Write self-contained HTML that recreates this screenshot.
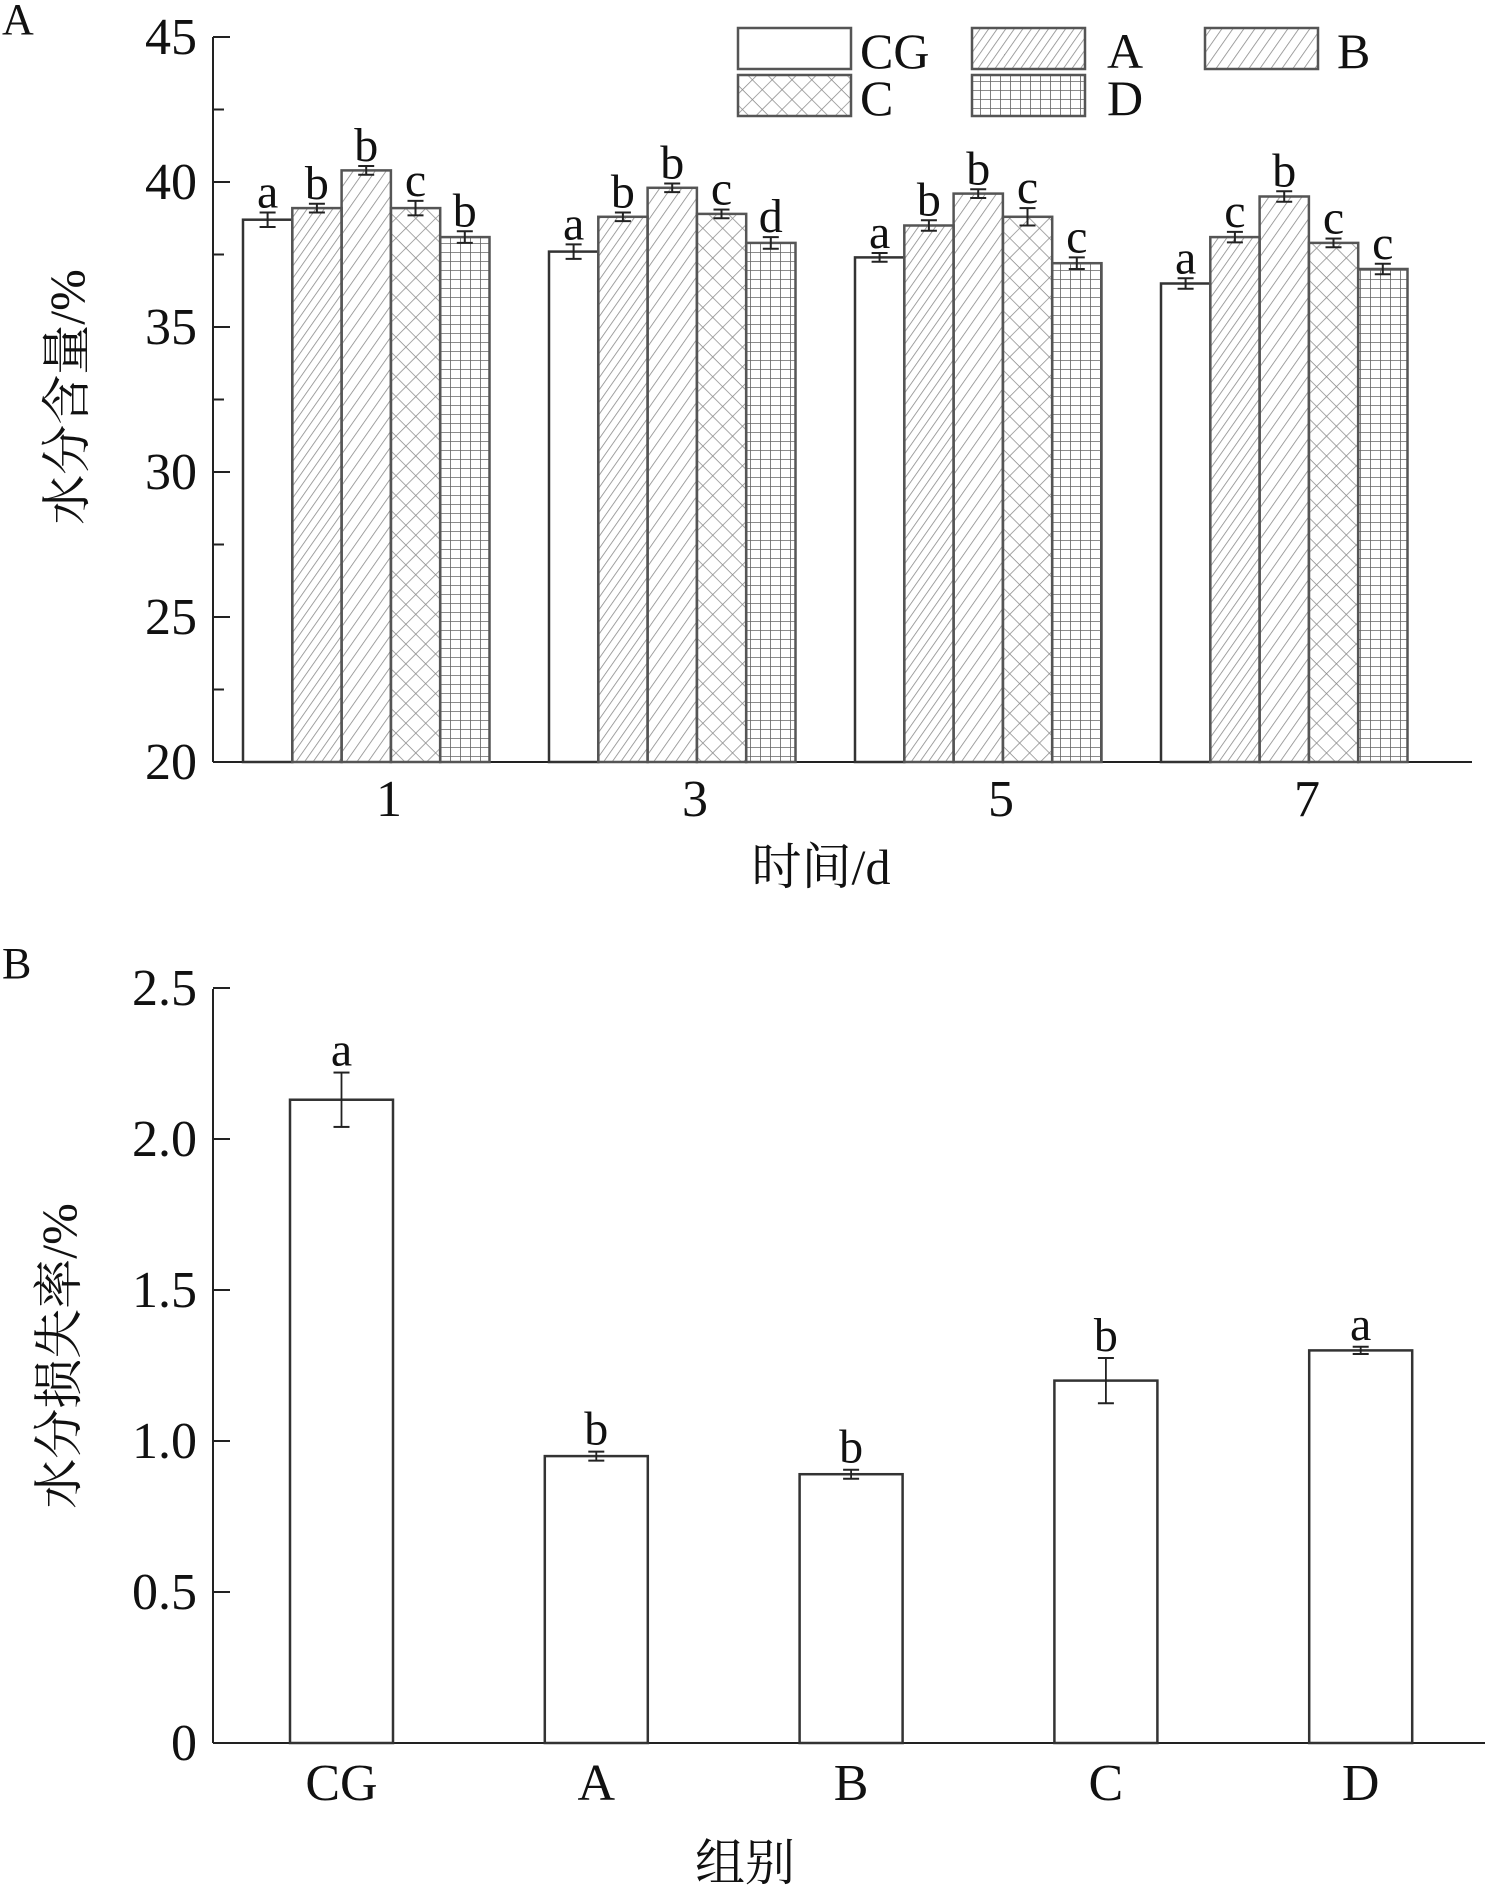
<!DOCTYPE html>
<html><head><meta charset="utf-8">
<style>html,body{margin:0;padding:0;background:#fff}svg{display:block}</style>
</head><body>
<svg id="s" width="1490" height="1885" viewBox="0 0 1490 1885" xmlns="http://www.w3.org/2000/svg" font-family="'Liberation Serif','Noto Serif CJK SC',serif">
<defs>
<pattern id="pA" width="7" height="7" patternUnits="userSpaceOnUse" patternTransform="rotate(35)"><line x1="0" y1="0" x2="0" y2="7" stroke="#8a8a8a" stroke-width="1.6"/></pattern>
<pattern id="pB" width="9" height="9" patternUnits="userSpaceOnUse" patternTransform="rotate(35)"><line x1="0" y1="0" x2="0" y2="9" stroke="#8a8a8a" stroke-width="1.6"/></pattern>
<pattern id="pC" width="14" height="14" patternUnits="userSpaceOnUse" patternTransform="rotate(45)"><line x1="0" y1="0" x2="0" y2="14" stroke="#8a8a8a" stroke-width="1.5"/><line x1="0" y1="0" x2="14" y2="0" stroke="#8a8a8a" stroke-width="1.5"/></pattern>
<pattern id="pD" width="10" height="9" patternUnits="userSpaceOnUse"><line x1="0" y1="0" x2="0" y2="9" stroke="#555" stroke-width="1.5"/><line x1="0" y1="0" x2="10" y2="0" stroke="#666" stroke-width="1.5"/></pattern>
</defs>
<g id="g"></g>
</svg>
<script>
var g=document.getElementById('g'),h='';
function L(x1,y1,x2,y2,w,c){h+='<line x1="'+x1+'" y1="'+y1+'" x2="'+x2+'" y2="'+y2+'" stroke="'+(c||'#222')+'" stroke-width="'+(w||2)+'"/>';}
function T(x,y,t,s,a,extra){h+='<text x="'+x+'" y="'+y+'" font-size="'+s+'" text-anchor="'+(a||'middle')+'" fill="#111" '+(extra||'')+'>'+t+'</text>';}
function R(x,y,w,hh,f,c){h+='<rect x="'+x+'" y="'+y+'" width="'+w+'" height="'+hh+'" fill="'+f+'" stroke="'+(c||'#333')+'" stroke-width="2.5"/>';}
// Chart A
T(2,34,'A',44,'start');
var yA=function(v){return 762-(v-20)*29;};
L(213,37,213,762,2);L(213,762,1472,762,2);
for(var v=20;v<=45;v+=5){L(213,yA(v),230,yA(v),2);T(197,yA(v)+17,v,52,'end');}
for(var v=22.5;v<45;v+=5){L(213,yA(v),224,yA(v),2);}
var fills=['#fff','url(#pA)','url(#pB)','url(#pC)','url(#pD)'];
var vals=[[38.7,39.1,40.4,39.1,38.1],[37.6,38.8,39.8,38.9,37.9],[37.4,38.5,39.6,38.8,37.2],[36.5,38.1,39.5,37.9,37.0]];
var errs=[[0.25,0.15,0.15,0.25,0.2],[0.25,0.15,0.15,0.15,0.2],[0.15,0.18,0.15,0.3,0.2],[0.18,0.18,0.18,0.15,0.18]];
var labs=[['a','b','b','c','b'],['a','b','b','c','d'],['a','b','b','c','c'],['a','c','b','c','c']];
var days=['1','3','5','7'];
for(var gi=0;gi<4;gi++){var x0=243+306*gi;
 for(var b=0;b<5;b++){var x=x0+b*49.3,v=vals[gi][b],y=yA(v);
  R(x,y,49.3,762-y,fills[b],b==0?'#333':'#555');
  var cx=x+24.6,e=errs[gi][b]*29;
  L(cx,y-e,cx,y+e,2);L(cx-8,y-e,cx+8,y-e,2);L(cx-8,y+e,cx+8,y+e,2);
  T(cx,y-e-5,labs[gi][b],48);}
 T(x0+146,816,days[gi],52);}
T(821,884,'时间/d',50);
T(0,0,'水分含量/%',50,'middle','transform="translate(84,397) rotate(-90)"');
// legend
var lg=[[738,28,'CG',860,0],[972,28,'A',1107,1],[1205,28,'B',1337,2],[738,75,'C',860,3],[972,75,'D',1107,4]];
lg.forEach(function(l){R(l[0],l[1],113,41,fills[l[4]],'#555');T(l[3],l[1]+40,l[2],50,'start');});
// Chart B
T(2,978,'B',44,'start');
var yB=function(v){return 1743-v*302;};
L(213,989,213,1743,2);L(213,1743,1485,1743,2);
var tl=['0','0.5','1.0','1.5','2.0','2.5'];
for(var i=0;i<=5;i++){var y=yB(i*0.5);L(213,y,230,y,2);T(197,y+17,tl[i],52,'end');}
var bv=[2.13,0.95,0.89,1.20,1.30],be=[0.09,0.015,0.015,0.075,0.012],bl=['a','b','b','b','a'],bn=['CG','A','B','C','D'];
for(var i=0;i<5;i++){var x=290+i*254.8,y=yB(bv[i]);R(x,y,103,1743-y,'#fff','#333');
 var cx=x+51.5,e=be[i]*302;L(cx,y-e,cx,y+e,1.8);L(cx-8,y-e,cx+8,y-e,2);L(cx-8,y+e,cx+8,y+e,2);
 T(cx,y-e-7,bl[i],48);T(cx,1800,bn[i],52);}
T(745,1880,'组别',50);
T(0,0,'水分损失率/%',50,'middle','transform="translate(76,1356) rotate(-90)"');
g.innerHTML=h;
</script>
</body></html>
